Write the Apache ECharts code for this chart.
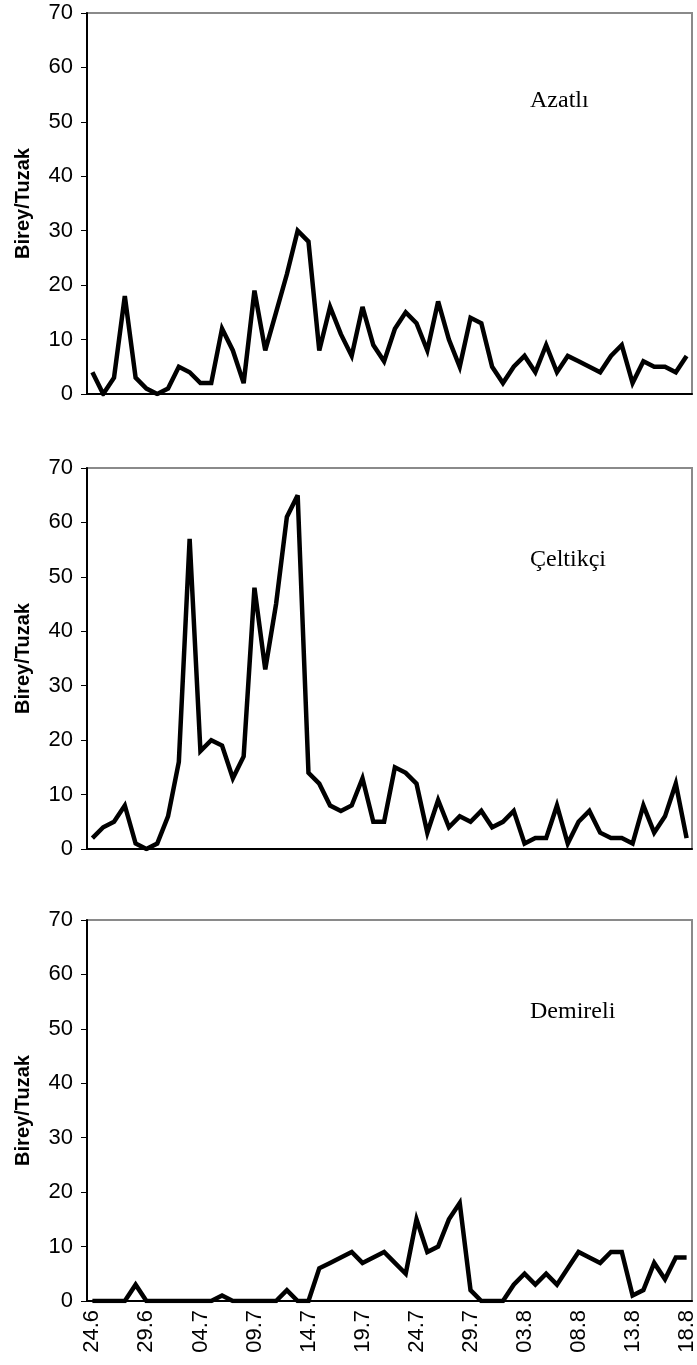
<!DOCTYPE html>
<html>
<head>
<meta charset="utf-8">
<script src="https://cdn.jsdelivr.net/npm/echarts@6/dist/echarts.min.js"></script>
<style>
  html, body { margin: 0; padding: 0; background: #fff; }
  #main { width: 697px; height: 1365px; }
</style>
</head>
<body>
<div id="main"></div>
<script>
// daily samples, 24.6 - 18.8
const dates = [
    '24.6', '25.6', '26.6', '27.6', '28.6', '29.6', '30.6',
    '01.7', '02.7', '03.7', '04.7', '05.7', '06.7', '07.7', '08.7', '09.7', '10.7',
    '11.7', '12.7', '13.7', '14.7', '15.7', '16.7', '17.7', '18.7', '19.7', '20.7',
    '21.7', '22.7', '23.7', '24.7', '25.7', '26.7', '27.7', '28.7', '29.7', '30.7', '31.7',
    '01.8', '02.8', '03.8', '04.8', '05.8', '06.8', '07.8', '08.8', '09.8', '10.8',
    '11.8', '12.8', '13.8', '14.8', '15.8', '16.8', '17.8', '18.8'
];
const azatli = [4, 0, 3, 18, 3, 1, 0, 1, 5, 4, 2, 2, 12, 8, 2, 19, 8, 15, 22, 30,
    28, 8, 16, 11, 7, 16, 9, 6, 12, 15, 13, 8, 17, 10, 5, 14, 13, 5, 2, 5,
    7, 4, 9, 4, 7, 6, 5, 4, 7, 9, 2, 6, 5, 5, 4, 7];
const celtikci = [2, 4, 5, 8, 1, 0, 1, 6, 16, 57, 18, 20, 19, 13, 17, 48, 33, 45, 61, 65,
    14, 12, 8, 7, 8, 13, 5, 5, 15, 14, 12, 3, 9, 4, 6, 5, 7, 4, 5, 7,
    1, 2, 2, 8, 1, 5, 7, 3, 2, 2, 1, 8, 3, 6, 12, 2];
const demireli = [0, 0, 0, 0, 3, 0, 0, 0, 0, 0, 0, 0, 1, 0, 0, 0, 0, 0, 2, 0,
    0, 6, 7, 8, 9, 7, 8, 9, 7, 5, 15, 9, 10, 15, 18, 2, 0, 0, 0, 3,
    5, 3, 5, 3, 6, 9, 8, 7, 9, 9, 1, 2, 7, 4, 8, 8];
const yTicks = [0, 10, 20, 30, 40, 50, 60, 70];
const panels = [
    { name: 'Azatlı', data: azatli, top: 13 },
    { name: 'Çeltikçi', data: celtikci, top: 468 },
    { name: 'Demireli', data: demireli, top: 920 }
];

const myChart = echarts.init(document.getElementById('main'), null, { renderer: 'canvas' });

const grid = [], xAxis = [], yAxis = [], series = [], graphic = [];
panels.forEach((p, i) => {
    const last = i === panels.length - 1;
    grid.push({
        left: 87, width: 605, top: p.top, height: 381,
        show: true, borderColor: '#8a8a8a', borderWidth: 2,
        outerBoundsMode: 'none'
    });
    xAxis.push({
        type: 'category',
        gridIndex: i,
        data: dates,
        boundaryGap: true,
        axisLine: { lineStyle: { color: '#000', width: 2 } },
        axisTick: { interval: 0, length: 5, lineStyle: { color: '#000', width: 1 } },
        axisLabel: {
            show: last, interval: 4, rotate: 90, margin: 9,
            fontFamily: 'Liberation Sans, Arial', fontSize: 22, color: '#000'
        },
        splitLine: { show: false }
    });
    yAxis.push({
        type: 'value',
        gridIndex: i,
        min: yTicks[0], max: yTicks[yTicks.length - 1], interval: 10,
        name: 'Birey/Tuzak',
        nameLocation: 'middle',
        nameGap: 54,
        nameTextStyle: { fontFamily: 'Liberation Sans, Arial', fontWeight: 'bold', fontSize: 20, color: '#000' },
        axisLine: { show: true, lineStyle: { color: '#000', width: 2 } },
        axisTick: { show: true, inside: false, length: 6, lineStyle: { color: '#000' } },
        axisLabel: { margin: 14, fontFamily: 'Liberation Sans, Arial', fontSize: 22, color: '#000' },
        splitLine: { show: false }
    });
    series.push({
        type: 'line',
        xAxisIndex: i,
        yAxisIndex: i,
        data: p.data,
        symbol: 'none',
        lineStyle: { color: '#000', width: 4.5, join: 'miter', miterLimit: 4 },
        animation: false
    });
    graphic.push({
        type: 'text',
        left: 530,
        top: p.top + (i === 0 ? 76 : 80),
        style: { text: p.name, font: '24px "Liberation Serif", serif', fill: '#000' }
    });
});

myChart.setOption({
    animation: false,
    grid: grid,
    xAxis: xAxis,
    yAxis: yAxis,
    series: series,
    graphic: graphic
});
</script>
</body>
</html>
